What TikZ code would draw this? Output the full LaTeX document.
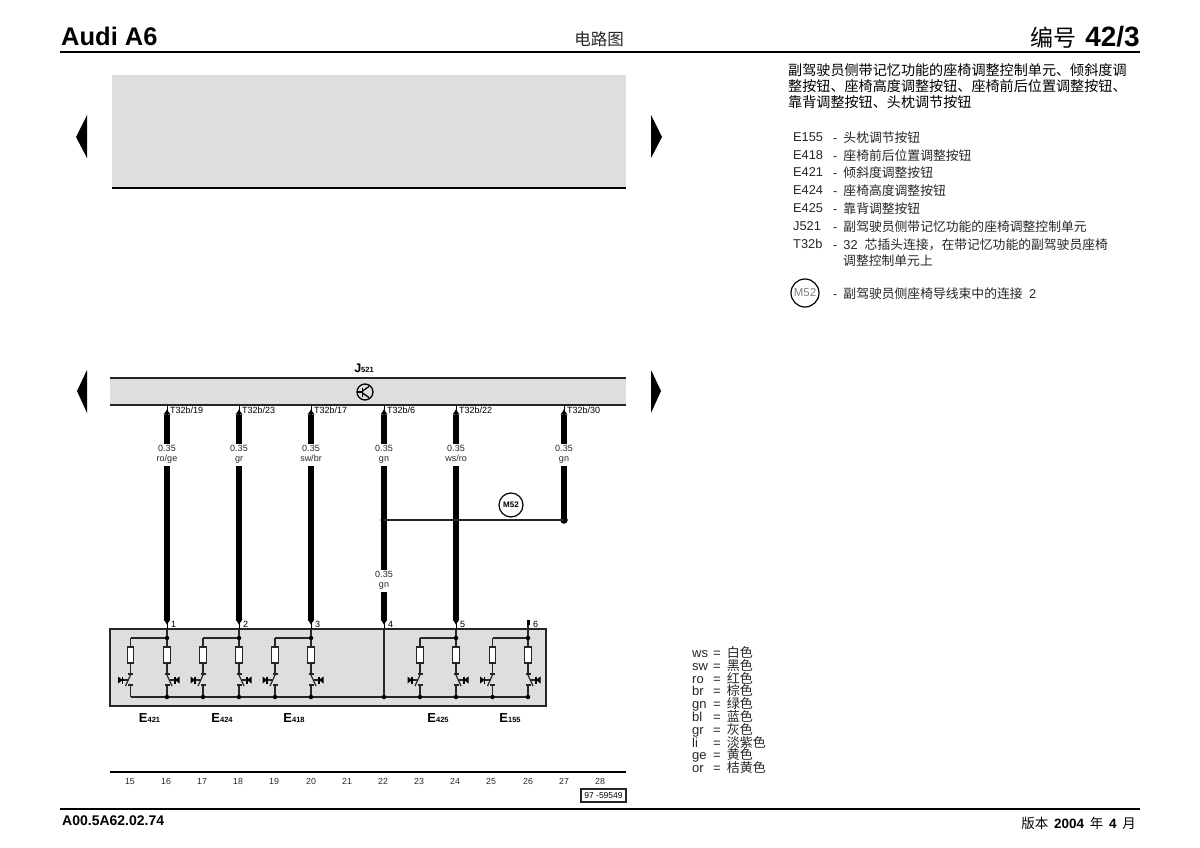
\documentclass[tikz,border=0pt]{standalone}
\usepackage{fontspec}
\setmainfont{Liberation Sans}
\newfontfamily\cjk{Noto Sans CJK SC}
\usetikzlibrary{arrows.meta}
\definecolor{panelgray}{HTML}{DEDEDE}
\definecolor{inkgray}{HTML}{262626}
\tikzset{
	ruleline/.style={line width=1.4pt,draw=black},
	barline/.style={line width=1.6pt,draw=inkgray},
	heavywire/.style={line width=5.4pt,draw=black},
	ctlwire/.style={line width=1.5pt,draw=inkgray},
	pinwire/.style={line width=1.2pt,draw=black,preaction={draw,-,shorten >=0pt},shorten >=4pt,-{Latex[length=5.5pt,width=7.5pt]}},
	wirelabel/.style={font=\fontsize{9}{10}\selectfont,align=center,inner sep=1pt,text=inkgray},
	pinlabel/.style={font=\fontsize{9}{10}\selectfont,anchor=base west,yshift=-3.2pt,inner sep=0pt,text=black},
	sheetnum/.style={font=\fontsize{8.8}{9.5}\selectfont,anchor=base,yshift=-3.2pt,inner sep=0pt,text=inkgray},
	legendtext/.style={font=\fontsize{12.8}{14}\selectfont,anchor=base west,yshift=-4.5pt,inner sep=0pt,text=inkgray},
	colortext/.style={font=\fontsize{13}{12.5}\selectfont,anchor=base west,yshift=-4.5pt,inner sep=0pt,text=inkgray},
	partlabel/.style={font=\bfseries,inner sep=0pt},
	fusebox/.style={draw=inkgray,line width=1.1pt,fill=white,minimum width=6.5pt,minimum height=16pt,inner sep=0pt},
	joint/.style={circle,fill=black,minimum size=4.5pt,inner sep=0pt}
}
% one push button: fuse, contact and lamp, side = 1 or -1
\newcommand{\seatbutton}[3]{%
	\begin{scope}[shift={(#2,0)},xscale=#3]
		\coordinate (#1top) at ( 0, 638 );
		\node [fusebox] (#1fuse) at ( 0, 655 ) {};
		\coordinate (#1a) at ( 0, 674 );
		\coordinate (#1b) at ( 0, 685 );
		\coordinate (#1bus) at ( 0, 697 );
		\draw [ctlwire] (#1top) -- (#1fuse) -- (#1a);
		\draw [ctlwire] (#1b) -- (#1bus);
		\draw [line width=1.1pt,draw=inkgray] ( -2.5, 674 ) -- ( 2.5, 674 );
		\draw [line width=1.1pt,draw=inkgray] ( -2.5, 685 ) -- ( 2.5, 685 );
		\draw [line width=1.2pt,draw=inkgray] ( 0, 675 ) -- ( 5, 686 );
		\draw [line width=1.1pt,draw=inkgray] ( 3, 680 ) -- ( 8, 680 );
		\draw [line width=1.3pt,draw=black] ( 8, 676.5 ) -- ( 8, 683.5 );
		\fill [black] ( 8, 680 ) -- ( 12.5, 676.5 ) -- ( 12.5, 683.5 ) -- cycle;
	\end{scope}
}
\newcommand{\seatpair}[3]{%
	\seatbutton{#1l}{#2}{-1}
	\seatbutton{#1r}{#3}{1}
	\node [joint] (#1j) at ( #3, 638 ) {};
	\draw [ctlwire] (#1j) -| (#1ltop);
}
\begin{document}
\begin{tikzpicture}[x=1pt,y=-1pt]
	\useasboundingbox ( 0, 0 ) rectangle ( 1200, 848 );
	% sheet head
	\node [anchor=west,inner sep=0pt,font=\bfseries\fontsize{25.5}{26}\selectfont] (headcar) at ( 61, 36 ) {Audi A6};
	\node [inner sep=0pt,font=\cjk\fontsize{16.5}{17}\selectfont,text=inkgray] (headtype) at ( 599, 39 ) {电路图};
	\node [anchor=east,inner sep=0pt] (headnum) at ( 1140, 37 ) {{\cjk\fontsize{23}{24}\selectfont 编号}\hspace{9pt}{\bfseries\fontsize{28}{29}\selectfont 42/3}};
	\coordinate (headl) at ( 60, 52 );
	\coordinate (headr) at ( 1140, 52 );
	\draw [ruleline] (headl) -- (headr);
	% empty upper panel
	\fill [panelgray] ( 112, 75 ) rectangle ( 626, 188 );
	\draw [ruleline] ( 112, 188 ) -- ( 626, 188 );
	\fill [black] ( 87, 115 ) -- ( 76, 137 ) -- ( 87, 158 ) -- cycle;
	\fill [black] ( 651, 115 ) -- ( 662, 137 ) -- ( 651, 158 ) -- cycle;
	% control unit
	\fill [black] ( 87, 370 ) -- ( 77, 391 ) -- ( 87, 413 ) -- cycle;
	\fill [black] ( 651, 370 ) -- ( 661, 391 ) -- ( 651, 413 ) -- cycle;
	\node [partlabel] (j521) at ( 364, 368 ) {\fontsize{12.5}{13}\selectfont J\fontsize{7.5}{8}\selectfont 521};
	\fill [panelgray] ( 110, 378 ) rectangle ( 626, 405 );
	\draw [barline] ( 110, 378 ) -- ( 626, 378 );
	\draw [barline] ( 110, 405 ) -- ( 626, 405 );
	\node [circle,draw=black,line width=1.3pt,minimum size=16pt,inner sep=0pt] (ksym) at ( 365, 392 ) {};
	\draw [line width=1.3pt] ( 357, 392 ) -- ( 362.5, 392 );
	\draw [line width=1.3pt] ( 362.5, 387.5 ) -- ( 362.5, 396.5 );
	\draw [line width=1.3pt] ( 362.5, 391 ) -- ( 369, 386.5 );
	\draw [line width=1.3pt] ( 362.5, 393 ) -- ( 369, 397.5 );
	% wires from the unit
	\coordinate (c19) at ( 167, 405 );
	\coordinate (c23) at ( 239, 405 );
	\coordinate (c17) at ( 311, 405 );
	\coordinate (c6) at ( 384, 405 );
	\coordinate (c22) at ( 456, 405 );
	\coordinate (c30) at ( 564, 405 );
	\coordinate (s19) at ( 167, 415 );
	\coordinate (s23) at ( 239, 415 );
	\coordinate (s17) at ( 311, 415 );
	\coordinate (s6) at ( 384, 415 );
	\coordinate (s22) at ( 456, 415 );
	\coordinate (s30) at ( 564, 415 );
	\node [pinlabel] (t19) at ( 170, 410 ) {T32b/19};
	\node [pinlabel] (t23) at ( 242, 410 ) {T32b/23};
	\node [pinlabel] (t17) at ( 314, 410 ) {T32b/17};
	\node [pinlabel] (t6) at ( 387, 410 ) {T32b/6};
	\node [pinlabel] (t22) at ( 459, 410 ) {T32b/22};
	\node [pinlabel] (t30) at ( 567, 410 ) {T32b/30};
	\node [wirelabel] (w19) at ( 167, 455 ) {0.35\\ro/ge\strut};
	\node [wirelabel] (w23) at ( 239, 455 ) {0.35\\gr\strut};
	\node [wirelabel] (w17) at ( 311, 455 ) {0.35\\sw/br\strut};
	\node [wirelabel] (w6) at ( 384, 455 ) {0.35\\gn\strut};
	\node [wirelabel] (w22) at ( 456, 455 ) {0.35\\ws/ro\strut};
	\node [wirelabel] (w30) at ( 564, 455 ) {0.35\\gn\strut};
	\node [wirelabel] (w4) at ( 384, 581 ) {0.35\\gn\strut};
	\coordinate (e1) at ( 167, 620 );
	\coordinate (e2) at ( 239, 620 );
	\coordinate (e3) at ( 311, 620 );
	\coordinate (e4) at ( 384, 620 );
	\coordinate (e5) at ( 456, 620 );
	\coordinate (p1) at ( 167, 629 );
	\coordinate (p2) at ( 239, 629 );
	\coordinate (p3) at ( 311, 629 );
	\coordinate (p4) at ( 384, 629 );
	\coordinate (p5) at ( 456, 629 );
	\coordinate (p6) at ( 528, 629 );
	\coordinate (e6) at ( 528, 620 );
	\coordinate (s6end) at ( 528, 625 );
	\draw [pinwire] (s19) -- (c19);
	\draw [pinwire] (s23) -- (c23);
	\draw [pinwire] (s17) -- (c17);
	\draw [pinwire] (s6) -- (c6);
	\draw [pinwire] (s22) -- (c22);
	\draw [pinwire] (s30) -- (c30);
	\draw [heavywire] (s19) -- (w19);
	\draw [heavywire] (s23) -- (w23);
	\draw [heavywire] (s17) -- (w17);
	\draw [heavywire] (s6) -- (w6);
	\draw [heavywire] (s22) -- (w22);
	\draw [heavywire] (s30) -- (w30);
	\draw [heavywire] (w19) -- (e1);
	\draw [heavywire] (w23) -- (e2);
	\draw [heavywire] (w17) -- (e3);
	\draw [heavywire] (w6) -- (w4);
	\draw [heavywire] (w4) -- (e4);
	\draw [heavywire] (w22) -- (e5);
	\node [joint,minimum size=7pt] (n6) at ( 384, 520 ) {};
	\node [joint,minimum size=7.5pt] (n30) at ( 564, 520 ) {};
	\draw [heavywire] (w30) -- (n30.center);
	\draw [ctlwire] (n6.center) -- (n30.center);
	\node [circle,draw=black,line width=1.2pt,minimum size=24pt,inner sep=0pt,fill=white,font=\bfseries\fontsize{8}{9}\selectfont] (m52) at ( 511, 505 ) {M52};
	% button block
	\fill [panelgray] ( 110, 629 ) rectangle ( 546, 706 );
	\draw [barline] ( 110, 629 ) rectangle ( 546, 706 );
	\draw [pinwire] (e1) -- (p1);
	\draw [pinwire] (e2) -- (p2);
	\draw [pinwire] (e3) -- (p3);
	\draw [pinwire] (e4) -- (p4);
	\draw [pinwire] (e5) -- (p5);
	\draw [line width=3pt] (e6) -- (s6end);
	\draw [ctlwire] (s6end) -- (p6);
	\node [pinlabel] (l1) at ( 171, 624 ) {1};
	\node [pinlabel] (l2) at ( 243, 624 ) {2};
	\node [pinlabel] (l3) at ( 315, 624 ) {3};
	\node [pinlabel] (l4) at ( 388, 624 ) {4};
	\node [pinlabel] (l5) at ( 460, 624 ) {5};
	\node [pinlabel] (l6) at ( 533, 624 ) {6};
	\seatpair{a}{130.5}{167}
	\seatpair{b}{203}{239}
	\seatpair{c}{275}{311}
	\seatpair{d}{420}{456}
	\seatpair{f}{492.5}{528}
	\draw [ctlwire] (p1) -- (aj);
	\draw [ctlwire] (p2) -- (bj);
	\draw [ctlwire] (p3) -- (cj);
	\draw [ctlwire] (p5) -- (dj);
	\draw [ctlwire] (p6) -- (fj);
	\coordinate (p4bus) at ( 384, 697 );
	\draw [ctlwire] (p4) -- (p4bus);
	\draw [ctlwire] (albus) -- (frbus);
	\node [joint] (j1) at ( 167, 697 ) {};
	\node [joint] (j2) at ( 203, 697 ) {};
	\node [joint] (j3) at ( 239, 697 ) {};
	\node [joint] (j4) at ( 275, 697 ) {};
	\node [joint] (j5) at ( 311, 697 ) {};
	\node [joint] (j6) at ( 384, 697 ) {};
	\node [joint] (j7) at ( 420, 697 ) {};
	\node [joint] (j8) at ( 456, 697 ) {};
	\node [joint] (j9) at ( 492.5, 697 ) {};
	\node [joint] (j10) at ( 528, 697 ) {};
	\node [partlabel] (e421) at ( 149.5, 718 ) {\fontsize{13}{13}\selectfont E\fontsize{7.5}{8}\selectfont 421};
	\node [partlabel] (e424) at ( 222, 718 ) {\fontsize{13}{13}\selectfont E\fontsize{7.5}{8}\selectfont 424};
	\node [partlabel] (e418) at ( 294, 718 ) {\fontsize{13}{13}\selectfont E\fontsize{7.5}{8}\selectfont 418};
	\node [partlabel] (e425) at ( 438, 718 ) {\fontsize{13}{13}\selectfont E\fontsize{7.5}{8}\selectfont 425};
	\node [partlabel] (e155) at ( 510, 718 ) {\fontsize{13}{13}\selectfont E\fontsize{7.5}{8}\selectfont 155};
	% sheet foot
	\draw [ruleline] ( 110, 772 ) -- ( 626, 772 );
	\node [sheetnum] (n15) at ( 130, 781 ) {15};
	\node [sheetnum] (n16) at ( 166, 781 ) {16};
	\node [sheetnum] (n17) at ( 202, 781 ) {17};
	\node [sheetnum] (n18) at ( 238, 781 ) {18};
	\node [sheetnum] (n19) at ( 274, 781 ) {19};
	\node [sheetnum] (n20) at ( 311, 781 ) {20};
	\node [sheetnum] (n21) at ( 347, 781 ) {21};
	\node [sheetnum] (n22) at ( 383, 781 ) {22};
	\node [sheetnum] (n23) at ( 419, 781 ) {23};
	\node [sheetnum] (n24) at ( 455, 781 ) {24};
	\node [sheetnum] (n25) at ( 491, 781 ) {25};
	\node [sheetnum] (n26) at ( 528, 781 ) {26};
	\node [sheetnum] (n27) at ( 564, 781 ) {27};
	\node [sheetnum] (n28) at ( 600, 781 ) {28};
	\node [draw=inkgray,line width=1.2pt,minimum width=45pt,minimum height=13pt,inner sep=0pt,font=\fontsize{8.5}{9}\selectfont] (refbox) at ( 603.5, 795.5 ) {97 -59549};
	\coordinate (footl) at ( 60, 809 );
	\coordinate (footr) at ( 1140, 809 );
	\draw [ruleline] (footl) -- (footr);
	\node [anchor=west,inner sep=0pt,font=\bfseries\fontsize{14}{15}\selectfont] (footcode) at ( 62, 821 ) {A00.5A62.02.74};
	\node [anchor=east,inner sep=0pt,font=\fontsize{13.5}{14}\selectfont] (footdate) at ( 1136, 823 ) {{\cjk 版本}\hspace{2pt} \textbf{2004}\hspace{2pt} {\cjk 年}\hspace{2pt} \textbf{4}\hspace{2pt} {\cjk 月}};
	% part list
	\node [anchor=north west,inner sep=0pt,align=left,font=\cjk\fontsize{14.1}{16}\selectfont] (title) at ( 788, 63 ) {副驾驶员侧带记忆功能的座椅调整控制单元、倾斜度调\\整按钮、座椅高度调整按钮、座椅前后位置调整按钮、\\靠背调整按钮、头枕调节按钮};
	\node [legendtext] (k155) at ( 793, 137 ) {E155};
	\node [legendtext] (k418) at ( 793, 155 ) {E418};
	\node [legendtext] (k421) at ( 793, 172 ) {E421};
	\node [legendtext] (k424) at ( 793, 190 ) {E424};
	\node [legendtext] (k425) at ( 793, 208 ) {E425};
	\node [legendtext] (k521) at ( 793, 226 ) {J521};
	\node [legendtext] (k32) at ( 793, 244 ) {T32b};
	\node [legendtext] (t155) at ( 833, 138 ) {-\hspace{6pt}{\cjk 头枕调节按钮}};
	\node [legendtext] (t418) at ( 833, 156 ) {-\hspace{6pt}{\cjk 座椅前后位置调整按钮}};
	\node [legendtext] (t421) at ( 833, 173 ) {-\hspace{6pt}{\cjk 倾斜度调整按钮}};
	\node [legendtext] (t424) at ( 833, 191 ) {-\hspace{6pt}{\cjk 座椅高度调整按钮}};
	\node [legendtext] (t425) at ( 833, 209 ) {-\hspace{6pt}{\cjk 靠背调整按钮}};
	\node [legendtext] (t521) at ( 833, 227 ) {-\hspace{6pt}{\cjk 副驾驶员侧带记忆功能的座椅调整控制单元}};
	\node [legendtext] (t32) at ( 833, 245 ) {-\hspace{6pt}32\hspace{7pt}{\cjk 芯插头连接，在带记忆功能的副驾驶员座椅}};
	\node [legendtext] (t32b) at ( 843, 261 ) {\cjk 调整控制单元上};
	\node [circle,draw=black,line width=1.2pt,minimum size=28pt,inner sep=0pt,text=gray,font=\fontsize{11.5}{12}\selectfont] (m52key) at ( 805, 293 ) {M52};
	\node [legendtext] (tm52) at ( 833, 294 ) {-\hspace{6pt}{\cjk 副驾驶员侧座椅导线束中的连接}\hspace{3pt} 2};
	% colour key
	\node [colortext] (cws) at ( 692, 653 ) {ws};
	\node [colortext] (csw) at ( 692, 665.8 ) {sw};
	\node [colortext] (cro) at ( 692, 678.6 ) {ro};
	\node [colortext] (cbr) at ( 692, 691.4 ) {br};
	\node [colortext] (cgn) at ( 692, 704.2 ) {gn};
	\node [colortext] (cbl) at ( 692, 717 ) {bl};
	\node [colortext] (cgr) at ( 692, 729.8 ) {gr};
	\node [colortext] (cli) at ( 692, 742.6 ) {li};
	\node [colortext] (cge) at ( 692, 755.4 ) {ge};
	\node [colortext] (cor) at ( 692, 768.2 ) {or};
	\node [colortext] (vws) at ( 713, 653 ) {=\hspace{6pt}{\cjk 白色}};
	\node [colortext] (vsw) at ( 713, 665.8 ) {=\hspace{6pt}{\cjk 黑色}};
	\node [colortext] (vro) at ( 713, 678.6 ) {=\hspace{6pt}{\cjk 红色}};
	\node [colortext] (vbr) at ( 713, 691.4 ) {=\hspace{6pt}{\cjk 棕色}};
	\node [colortext] (vgn) at ( 713, 704.2 ) {=\hspace{6pt}{\cjk 绿色}};
	\node [colortext] (vbl) at ( 713, 717 ) {=\hspace{6pt}{\cjk 蓝色}};
	\node [colortext] (vgr) at ( 713, 729.8 ) {=\hspace{6pt}{\cjk 灰色}};
	\node [colortext] (vli) at ( 713, 742.6 ) {=\hspace{6pt}{\cjk 淡紫色}};
	\node [colortext] (vge) at ( 713, 755.4 ) {=\hspace{6pt}{\cjk 黄色}};
	\node [colortext] (vor) at ( 713, 768.2 ) {=\hspace{6pt}{\cjk 桔黄色}};
\end{tikzpicture}
\end{document}
